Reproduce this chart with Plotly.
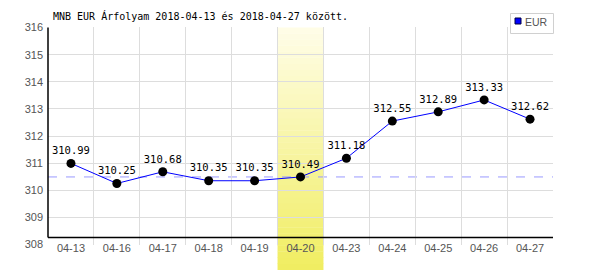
import plotly.graph_objects as go

dates = ["04-13", "04-16", "04-17", "04-18", "04-19", "04-20",
         "04-23", "04-24", "04-25", "04-26", "04-27"]
eur = [310.99, 310.25, 310.68, 310.35, 310.35, 310.49,
       311.18, 312.55, 312.89, 313.33, 312.62]
series_name = "EUR"
ref_level = [310.49]
highlight = ["04-20"]
y_ticks = [308, 309, 310, 311, 312, 313, 314, 315, 316]
title_text = "MNB EUR Árfolyam 2018-04-13 és 2018-04-27 között."

W, H = 600, 270
L, R, T, B = 48, 47, 27, 25
plot_w = W - L - R
plot_h = H - T - B
y_lo, y_hi = 307.98, 316.02
axis_y = 308.26


def px_x(p):
    return (p - L) / plot_w


def px_y(p):
    return (H - B - p) / plot_h


xs = list(range(len(dates)))
fig = go.Figure()

fig.add_trace(go.Scatter(
    x=xs, y=eur, mode="lines+markers+text",
    text=[f"{v:.2f}" for v in eur], textposition="top center",
    textfont=dict(family="DejaVu Sans Mono", size=10.5, color="black"),
    line=dict(color="#0000ff", width=1),
    marker=dict(color="black", size=9),
    showlegend=False, cliponaxis=False, hoverinfo="skip"))

shapes = []
hi = dates.index(highlight[0])
p0 = -B / plot_h
p1 = (316 - y_lo) / (y_hi - y_lo)
N = 40
c_top = (255, 253, 232)
c_bot = (240, 237, 96)
for i in range(N):
    f = (i + 0.5) / N
    col = tuple(round(c_bot[k] + (c_top[k] - c_bot[k]) * f) for k in range(3))
    ya = p0 + (p1 - p0) * i / N
    yb = p0 + (p1 - p0) * (i + 1) / N + 0.002
    shapes.append(dict(type="rect", xref="x", yref="paper",
                       x0=hi - 0.5, x1=hi + 0.5, y0=ya, y1=min(yb, p1),
                       fillcolor="rgb(%d,%d,%d)" % col, line=dict(width=0),
                       layer="between"))

shapes.append(dict(type="line", xref="paper", yref="y", x0=0, x1=1,
                   y0=ref_level[0], y1=ref_level[0],
                   line=dict(color="#9a9aff", width=1, dash="dash"),
                   layer="between"))
shapes.append(dict(type="line", xref="paper", yref="y", x0=0, x1=1,
                   y0=axis_y, y1=axis_y, line=dict(color="black", width=1.5),
                   layer="above"))
shapes.append(dict(type="line", xref="paper", yref="y", x0=0, x1=0,
                   y0=axis_y, y1=316, line=dict(color="black", width=1.5),
                   layer="above"))

# manual legend
shapes.append(dict(type="rect", xref="paper", yref="paper",
                   x0=px_x(510.5), x1=px_x(553.5), y0=px_y(33.5), y1=px_y(13.5),
                   fillcolor="white", line=dict(color="#d0d0d0", width=1),
                   layer="above"))
shapes.append(dict(type="rect", xref="paper", yref="paper",
                   x0=px_x(515), x1=px_x(521), y0=px_y(24), y1=px_y(18),
                   fillcolor="#0000ff", line=dict(color="#000044", width=1),
                   layer="above"))

annotations = [dict(text=series_name, xref="paper", yref="paper",
                    x=px_x(523), y=px_y(21.5), xanchor="left", yanchor="middle",
                    showarrow=False,
                    font=dict(family="Liberation Sans", size=10.5, color="#555555"))]

fig.update_layout(
    width=W, height=H,
    margin=dict(l=L, r=R, t=T, b=B),
    paper_bgcolor="white", plot_bgcolor="white",
    shapes=shapes, annotations=annotations, showlegend=False,
    title=dict(text=title_text, x=53 / W, xanchor="left", xref="container",
               y=1 - 16 / H, yanchor="middle", yref="container",
               font=dict(family="DejaVu Sans Mono", size=10, color="black")),
    xaxis=dict(range=[-0.5, len(dates) - 0.5], tickvals=xs, ticktext=dates,
               showgrid=False, zeroline=False, showline=False, ticks="",
               ticklabelstandoff=-5,
               tickfont=dict(family="Liberation Sans", size=11, color="#555555"),
               minor=dict(tick0=0.5, dtick=1, showgrid=True,
                          gridcolor="#dddddd", gridwidth=1)),
    yaxis=dict(range=[y_lo, y_hi], tickvals=y_ticks,
               ticktext=[str(v) for v in y_ticks],
               showgrid=True, gridcolor="#dddddd", gridwidth=1,
               zeroline=False, showline=False, ticks="",
               ticklabelstandoff=4,
               tickfont=dict(family="Liberation Sans", size=11, color="#555555")),
)

fig.write_html("out.html")
